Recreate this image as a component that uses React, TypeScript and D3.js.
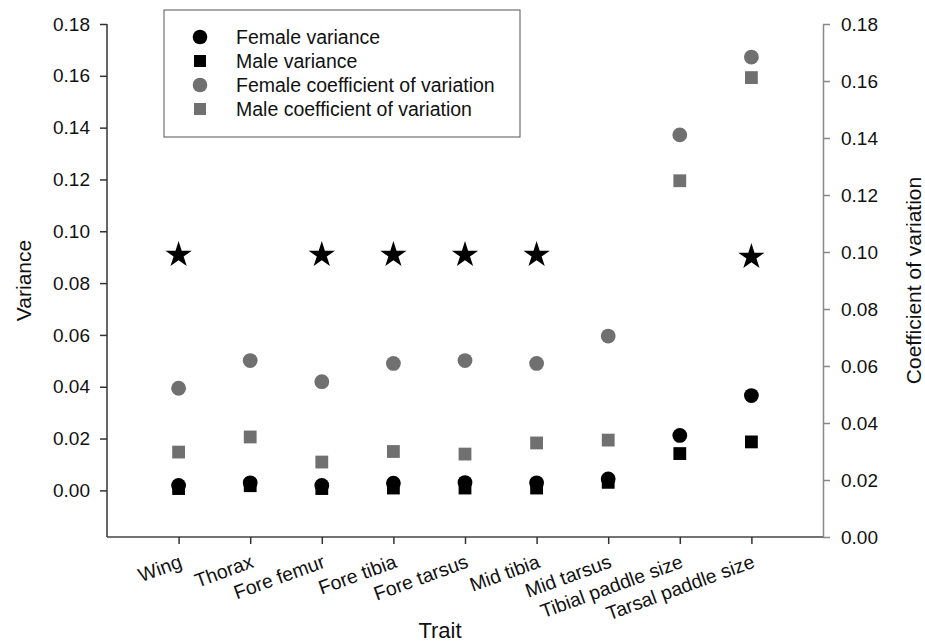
import React, { useEffect, useRef } from 'react';
import * as d3 from 'd3';

const categories = [
  'Wing',
  'Thorax',
  'Fore femur',
  'Fore tibia',
  'Fore tarsus',
  'Mid tibia',
  'Mid tarsus',
  'Tibial paddle size',
  'Tarsal paddle size',
];

// left axis (variance)
const femaleVariance = [0.0019, 0.0029, 0.0019, 0.0028, 0.003, 0.0029, 0.0044, 0.0212, 0.0366];
const maleVariance = [0.0007, 0.0018, 0.0007, 0.0009, 0.0009, 0.0009, 0.0031, 0.0142, 0.0187];

// right axis (coefficient of variation)
const femaleCV = [0.0522, 0.0619, 0.0545, 0.0609, 0.0619, 0.0609, 0.0705, 0.1411, 0.1684];
const maleCV = [0.0298, 0.0351, 0.0263, 0.03, 0.0291, 0.033, 0.034, 0.125, 0.1612];

// significance stars, placed on the right axis
const starCategories = ['Wing', 'Fore femur', 'Fore tibia', 'Fore tarsus', 'Mid tibia', 'Tarsal paddle size'];
const starValues = [0.0995, 0.0995, 0.0995, 0.0995, 0.0995, 0.0988];

const leftTicks = [0, 0.02, 0.04, 0.06, 0.08, 0.1, 0.12, 0.14, 0.16, 0.18];
const rightTicks = [0, 0.02, 0.04, 0.06, 0.08, 0.1, 0.12, 0.14, 0.16, 0.18];

const legendItems = [
  { label: 'Female variance', shape: 'circle', color: '#000' },
  { label: 'Male variance', shape: 'square', color: '#000' },
  { label: 'Female coefficient of variation', shape: 'circle', color: '#707070' },
  { label: 'Male coefficient of variation', shape: 'square', color: '#707070' },
];

const FONT = 'Liberation Sans, Arial, sans-serif';

const App: React.FC = () => {
  const ref = useRef<SVGSVGElement>(null);

  useEffect(() => {
    if (!ref.current) return;
    const W = 925;
    const H = 642;
    const left = 107, right = 823, top = 24, bottom = 537;
    const grey = '#707070';

    const svg = d3.select(ref.current);
    svg.selectAll('*').remove();
    svg.attr('width', W).attr('height', H);

    const x = d3.scalePoint<string>().domain(categories).range([left, right]).padding(1);
    const yL = d3.scaleLinear().domain([-0.018, 0.18]).range([bottom, top]);
    const yR = d3.scaleLinear().domain([0, 0.18]).range([bottom, top]);

    // Left axis
    const gL = svg.append('g').attr('transform', `translate(${left},0)`)
      .call(d3.axisLeft(yL).tickValues(leftTicks).tickFormat(d3.format('.2f')).tickSize(7).tickPadding(10).tickSizeOuter(0));
    gL.select('.domain').attr('d', `M0,${bottom}V${yL(0.18)}`).attr('stroke', '#333').attr('stroke-width', 1.5);
    gL.selectAll('.tick line').attr('stroke', '#333').attr('stroke-width', 1.5);
    gL.selectAll('.tick text').attr('font-family', FONT).attr('font-size', 19).attr('fill', '#111');

    // Right axis
    const gR = svg.append('g').attr('transform', `translate(${right},0)`)
      .call(d3.axisRight(yR).tickValues(rightTicks).tickFormat(d3.format('.2f')).tickSize(7).tickPadding(11).tickSizeOuter(0));
    gR.select('.domain').attr('stroke', '#888').attr('stroke-width', 1.5);
    gR.selectAll('.tick line').attr('stroke', '#888').attr('stroke-width', 1.5);
    gR.selectAll('.tick text').attr('font-family', FONT).attr('font-size', 19).attr('fill', '#111');

    // Bottom axis
    const gB = svg.append('g').attr('transform', `translate(0,${bottom})`)
      .call(d3.axisBottom(x).tickSize(7).tickSizeOuter(0));
    gB.select('.domain').attr('d', `M${left},0H${right}`).attr('stroke', '#444').attr('stroke-width', 1.5);
    gB.selectAll('.tick line').attr('stroke', '#333').attr('stroke-width', 1.5);
    gB.selectAll('.tick text')
      .attr('font-family', FONT)
      .attr('font-size', 19.5)
      .attr('fill', '#111')
      .attr('text-anchor', 'end')
      .attr('dy', null)
      .attr('y', null)
      .attr('transform', 'translate(4,30) rotate(-20)');

    const plot = svg.append('g');

    // coefficient of variation (right axis)
    plot.selectAll('.mcv').data(maleCV).enter().append('rect')
      .attr('x', (d, i) => (x(categories[i]) || 0) - 6.4)
      .attr('y', d => yR(d) - 6.4)
      .attr('width', 12.8).attr('height', 12.8)
      .attr('fill', grey);
    plot.selectAll('.fcv').data(femaleCV).enter().append('circle')
      .attr('cx', (d, i) => x(categories[i]) || 0)
      .attr('cy', d => yR(d))
      .attr('r', 7.4)
      .attr('fill', grey);

    // variance (left axis)
    plot.selectAll('.mv').data(maleVariance).enter().append('rect')
      .attr('x', (d, i) => (x(categories[i]) || 0) - 6.4)
      .attr('y', d => yL(d) - 6.4)
      .attr('width', 12.8).attr('height', 12.8)
      .attr('fill', '#000');
    plot.selectAll('.fv').data(femaleVariance).enter().append('circle')
      .attr('cx', (d, i) => x(categories[i]) || 0)
      .attr('cy', d => yL(d))
      .attr('r', 7.4)
      .attr('fill', '#000');

    // stars
    const star = d3.symbol().type(d3.symbolStar).size(215);
    plot.selectAll('.star').data(starCategories).enter().append('path')
      .attr('d', star)
      .attr('transform', (d, i) => `translate(${x(d)},${yR(starValues[i]) + 1.5})`)
      .attr('fill', '#000');

    // Axis titles
    svg.append('text')
      .attr('transform', `translate(31,${(top + bottom) / 2}) rotate(-90)`)
      .attr('text-anchor', 'middle')
      .attr('font-family', FONT).attr('font-size', 21).attr('fill', '#111')
      .text('Variance');
    svg.append('text')
      .attr('transform', `translate(921,${(top + bottom) / 2}) rotate(-90)`)
      .attr('text-anchor', 'middle')
      .attr('font-family', FONT).attr('font-size', 21).attr('fill', '#111')
      .text('Coefficient of variation');
    svg.append('text')
      .attr('x', 440).attr('y', 638)
      .attr('text-anchor', 'middle')
      .attr('font-family', FONT).attr('font-size', 22).attr('fill', '#111')
      .text('Trait');

    // Legend
    const lg = svg.append('g');
    lg.append('rect')
      .attr('x', 164).attr('y', 10).attr('width', 356).attr('height', 127)
      .attr('fill', '#fff').attr('stroke', '#555').attr('stroke-width', 1);
    const rowY = d3.scaleLinear().domain([0, legendItems.length - 1]).range([37, 109]);
    legendItems.forEach((it, i) => {
      const cy = rowY(i);
      if (it.shape === 'circle') {
        lg.append('circle').attr('cx', 200).attr('cy', cy).attr('r', 7.3).attr('fill', it.color);
      } else {
        lg.append('rect').attr('x', 194).attr('y', cy - 6).attr('width', 12).attr('height', 12).attr('fill', it.color);
      }
      lg.append('text')
        .attr('x', 236).attr('y', cy).attr('dy', '0.36em')
        .attr('font-family', FONT).attr('font-size', 19.5).attr('fill', '#111')
        .text(it.label);
    });
  }, []);

  return (
    <div style={{ position: 'absolute', left: 0, top: 0, background: '#fff' }}>
      <svg ref={ref} style={{ display: 'block' }}></svg>
    </div>
  );
};

export default App;
